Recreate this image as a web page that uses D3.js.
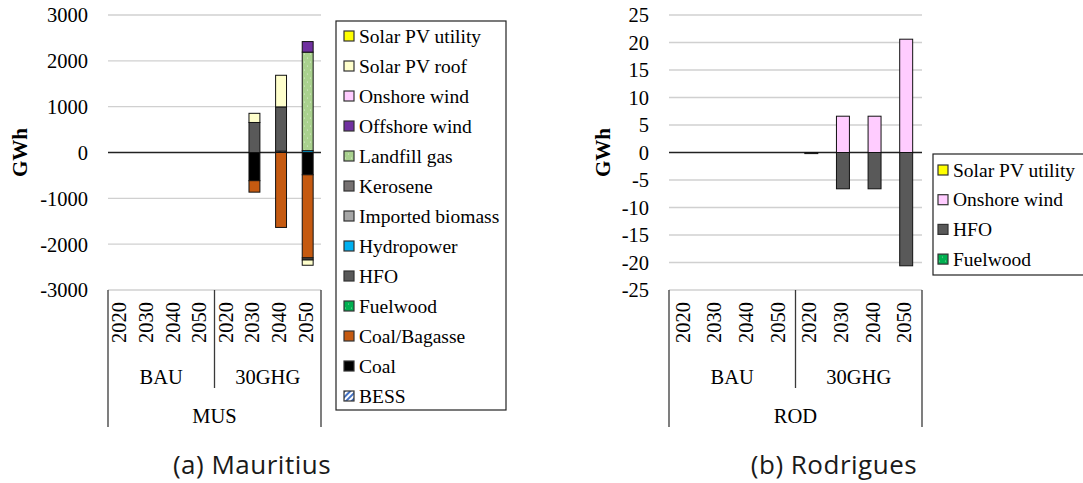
<!DOCTYPE html>
<html>
<head>
<meta charset="utf-8">
<script src="https://cdn.jsdelivr.net/npm/d3@7"></script>
<style>
  html, body { margin: 0; padding: 0; background: #fff; }
  svg { display: block; }
  text { font-family: "Liberation Serif", "Times New Roman", serif; fill: #000; }
  text.caption { font-family: "Open Sans", "Noto Sans", sans-serif; fill: #1a1a1a; }
</style>
</head>
<body>
<svg id="chart" width="1083" height="483"></svg>
<script>
// ---------- Data ----------
const years = ["2020", "2030", "2040", "2050"];
const scenarios = ["BAU", "30GHG"];

// Mauritius (MUS) – stack order bottom → top (legend shows reverse)
const musSeries = ["BESS", "Coal", "Coal/Bagasse", "Fuelwood", "HFO", "Hydropower",
  "Imported biomass", "Kerosene", "Landfill gas", "Offshore wind", "Onshore wind",
  "Solar PV roof", "Solar PV utility"];
// values per category: BAU 2020..2050, 30GHG 2020..2050 (GWh)
const musBESS            = [0, 0, 0, 0, 0, 0, 30, 0];
const musCoal            = [0, 0, 0, 0, 0, -615, 0, -486];
const musCoalBagasse     = [0, 0, 0, 0, 0, -250, -1635, -1814];
const musFuelwood        = [0, 0, 0, 0, 0, 0, 0, 0];
const musHFO             = [0, 0, 0, 0, 0, 655, 965, -45];
const musHydropower      = [0, 0, 0, 0, 0, 0, 0, 40];
const musImportedBiomass = [0, 0, 0, 0, 0, 0, 0, 0];
const musKerosene        = [0, 0, 0, 0, 0, 0, 0, 0];
const musLandfillGas     = [0, 0, 0, 0, 0, 0, 0, 2150];
const musOffshoreWind    = [0, 0, 0, 0, 0, 0, 0, 230];
const musOnshoreWind     = [0, 0, 0, 0, 0, 0, 0, 0];
const musSolarPVRoof     = [0, 0, 0, 0, 0, 200, 690, -115];
const musSolarPVUtility  = [0, 0, 0, 0, 0, 0, 0, 0];
const musTicks = [-3000, -2000, -1000, 0, 1000, 2000, 3000];

// Rodrigues (ROD)
const rodSeries = ["Fuelwood", "HFO", "Onshore wind", "Solar PV utility"];
const rodFuelwood        = [0, 0, 0, 0, 0, 0, 0, 0];
const rodHFO             = [0, 0, 0, 0, -0.2, -6.6, -6.6, -20.6];
const rodOnshoreWind     = [0, 0, 0, 0, 0, 6.6, 6.6, 20.6];
const rodSolarPVUtility  = [0, 0, 0, 0, 0, 0, 0, 0];
const rodTicks = [-25, -20, -15, -10, -5, 0, 5, 10, 15, 20, 25];

const colors = {
  "Solar PV utility": "#ffff00",
  "Solar PV roof": "#ffffcc",
  "Onshore wind": "#ffccff",
  "Offshore wind": "#7030a0",
  "Landfill gas": "url(#dotsLandfill)",
  "Kerosene": "#767171",
  "Imported biomass": "#a6a6a6",
  "Hydropower": "#00b0f0",
  "HFO": "#595959",
  "Fuelwood": "url(#dotsFuelwood)",
  "Coal/Bagasse": "#c55a11",
  "Coal": "#000000",
  "BESS": "url(#hatchBESS)"
};

// ---------- Build ----------
const svg = d3.select("#chart");
const defs = svg.append("defs");
function dotPattern(id, bg, dot) {
  const p = defs.append("pattern").attr("id", id).attr("patternUnits", "userSpaceOnUse")
    .attr("width", 6).attr("height", 8);
  p.append("rect").attr("width", 6).attr("height", 8).attr("fill", bg);
  p.append("circle").attr("cx", 1.5).attr("cy", 2).attr("r", 0.6).attr("fill", dot);
  p.append("circle").attr("cx", 4.5).attr("cy", 6).attr("r", 0.6).attr("fill", dot);
}
dotPattern("dotsLandfill", "#a9d18e", "#e4f1da");
dotPattern("dotsFuelwood", "#00b050", "#8fdcae");
const hp = defs.append("pattern").attr("id", "hatchBESS").attr("patternUnits", "userSpaceOnUse")
  .attr("width", 4).attr("height", 4).attr("patternTransform", "rotate(45)");
hp.append("rect").attr("width", 4).attr("height", 4).attr("fill", "#ffffff");
hp.append("rect").attr("width", 2).attr("height", 4).attr("fill", "#4472c4");

function drawChart(cfg) {
  const g = svg.append("g");
  const cats = scenarios.flatMap(s => years.map(yr => s + "|" + yr));
  const x = d3.scaleBand().domain(cats).range([cfg.x0, cfg.x1]).paddingInner(0).paddingOuter(0);
  const y = d3.scaleLinear().domain(cfg.domain).range([cfg.yBottom, cfg.yTop]);

  // gridlines
  g.append("g").selectAll("line").data(cfg.ticks.filter(t => t !== 0)).join("line")
    .attr("x1", cfg.x0).attr("x2", cfg.x1)
    .attr("y1", d => y(d)).attr("y2", d => y(d))
    .attr("stroke", "#d0d0d0").attr("stroke-width", 1.4);

  // y axis labels (hyphen-minus as in the reference)
  const yAxis = d3.axisLeft(y).tickValues(cfg.ticks).tickSize(0).tickPadding(0)
    .tickFormat(d => String(d));
  const ya = g.append("g").attr("transform", `translate(${cfg.labelX},0)`).call(yAxis);
  ya.select(".domain").remove();
  ya.selectAll("text").attr("font-size", 20.5).attr("font-family", "Liberation Serif")
    .attr("fill", "#000").attr("dy", "0.34em");

  // y title
  g.append("text").attr("transform", `translate(${cfg.titleX},${y(0)}) rotate(-90)`)
    .attr("text-anchor", "middle").attr("dy", "0.35em")
    .attr("font-size", 21).attr("font-weight", "bold").text("GWh");

  // stacked bars
  const table = cats.map((c, i) => {
    const row = { cat: c };
    cfg.series.forEach((s, k) => row[s] = cfg.values[k][i]);
    return row;
  });
  const stack = d3.stack().keys(cfg.series).offset(d3.stackOffsetDiverging)(table);
  const bw = x.bandwidth() * 0.41;

  // zero line
  g.append("line").attr("x1", cfg.x0).attr("x2", cfg.x1)
    .attr("y1", y(0)).attr("y2", y(0)).attr("stroke", "#222").attr("stroke-width", 1.3);

  stack.forEach(layer => {
    g.append("g").selectAll("rect")
      .data(layer.filter(d => d[1] - d[0] !== 0))
      .join("rect")
      .attr("x", d => x(d.data.cat) + (x.bandwidth() - bw) / 2)
      .attr("width", bw)
      .attr("y", d => y(Math.max(d[0], d[1])))
      .attr("height", d => Math.max(0.6, Math.abs(y(d[0]) - y(d[1]))))
      .attr("fill", colors[layer.key])
      .attr("stroke", "#111").attr("stroke-width", 1);
  });

  // category axis (multi-level)
  const axTop = cfg.yBottom;
  const lineC = "#3a3a3a";
  g.append("line").attr("x1", cfg.x0).attr("x2", cfg.x0).attr("y1", axTop).attr("y2", axTop + 137)
    .attr("stroke", lineC).attr("stroke-width", 1.3);
  g.append("line").attr("x1", cfg.x1).attr("x2", cfg.x1).attr("y1", axTop).attr("y2", axTop + 137)
    .attr("stroke", lineC).attr("stroke-width", 1.3);
  const xMid = x(scenarios[1] + "|" + years[0]);
  g.append("line").attr("x1", xMid).attr("x2", xMid).attr("y1", axTop).attr("y2", axTop + 98)
    .attr("stroke", lineC).attr("stroke-width", 1.3);

  g.append("g").selectAll("text").data(cats).join("text")
    .attr("transform", d => `translate(${x(d) + x.bandwidth() / 2 + 5},${axTop + 12}) rotate(-90)`)
    .attr("text-anchor", "end").attr("font-size", 20.5)
    .text(d => d.split("|")[1]);

  g.append("g").selectAll("text").data(scenarios).join("text")
    .attr("x", s => {
      const first = x(s + "|" + years[0]);
      const last = x(s + "|" + years[years.length - 1]) + x.bandwidth();
      return (first + last) / 2;
    })
    .attr("y", axTop + 94).attr("text-anchor", "middle").attr("font-size", 20.5)
    .text(s => s);

  g.append("text").attr("x", (cfg.x0 + cfg.x1) / 2).attr("y", axTop + 132.5)
    .attr("text-anchor", "middle").attr("font-size", 20.5).text(cfg.region);

  // caption
  g.append("text").attr("class", "caption").attr("x", cfg.capX).attr("y", 474)
    .attr("text-anchor", "middle").attr("font-size", 26).attr("letter-spacing", 0.5)
    .text(cfg.caption);

  // legend
  const lg = g.append("g");
  lg.append("rect").attr("x", cfg.leg.x).attr("y", cfg.leg.y).attr("width", cfg.leg.w).attr("height", cfg.leg.h)
    .attr("fill", "#fff").attr("stroke", "#222").attr("stroke-width", 1.2);
  const items = cfg.series.slice().reverse();
  const it = lg.selectAll("g.item").data(items).join("g").attr("class", "item")
    .attr("transform", (d, i) => `translate(${cfg.leg.x + cfg.leg.sx},${cfg.leg.y0 + i * cfg.leg.step})`);
  it.append("rect").attr("x", 0).attr("y", -5).attr("width", 10).attr("height", 10)
    .attr("fill", d => colors[d]).attr("stroke", "#333").attr("stroke-width", 1.2);
  it.append("text").attr("x", 15).attr("dy", "0.34em").attr("font-size", 19.5).text(d => d);
}

drawChart({
  region: "MUS", caption: "(a) Mauritius", capX: 252,
  x0: 108, x1: 321, yTop: 15, yBottom: 290, domain: [-3000, 3000], ticks: musTicks,
  labelX: 88, titleX: 20,
  series: musSeries,
  values: [musBESS, musCoal, musCoalBagasse, musFuelwood, musHFO, musHydropower,
    musImportedBiomass, musKerosene, musLandfillGas, musOffshoreWind, musOnshoreWind,
    musSolarPVRoof, musSolarPVUtility],
  leg: { x: 336, y: 21, w: 170, h: 389, sx: 8, y0: 36, step: 30 }
});

drawChart({
  region: "ROD", caption: "(b) Rodrigues", capX: 834,
  x0: 669, x1: 922, yTop: 15, yBottom: 290, domain: [-25, 25], ticks: rodTicks,
  labelX: 649, titleX: 603,
  series: rodSeries,
  values: [rodFuelwood, rodHFO, rodOnshoreWind, rodSolarPVUtility],
  leg: { x: 933, y: 154, w: 155, h: 121, sx: 5, y0: 170, step: 29.7 }
});
</script>
</body>
</html>
